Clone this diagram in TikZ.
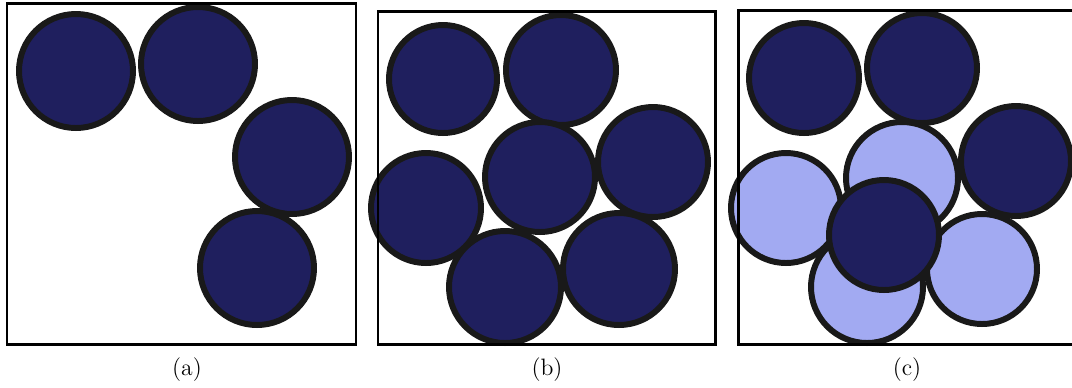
\documentclass[tikz,border=0pt]{standalone}
\definecolor{discdark}{HTML}{1F1F5E}
\definecolor{disclight}{HTML}{A2AAF2}
\begin{document}
\begin{tikzpicture}[x=0.02cm,y=-0.02cm,
  frame/.style={draw=black,line width=1.7pt},
  disc/.style={draw=black!90,line width=3.4pt,fill=discdark},
  ghost/.style={draw=black!90,line width=3.4pt,fill=disclight},
  caption/.style={font=\fontsize{13.5}{16}\selectfont,inner sep=0pt}]
\useasboundingbox[fill=white] (0,0) rectangle (1072,387);

% panel (a)
\filldraw[disc] (76,71) circle (57);
\filldraw[disc] (198,64) circle (57);
\filldraw[disc] (292,157) circle (57);
\filldraw[disc] (257,268) circle (57);
\draw[frame] (7,3) rectangle (356,344);
\node[caption] (la) at (187,370) {(a)};

% panel (b)
\filldraw[disc] (443,79) circle (54);
\filldraw[disc] (561,70) circle (55);
\filldraw[disc] (540,177) circle (55);
\filldraw[disc] (653,162) circle (55);
\filldraw[disc] (426,208) circle (55);
\filldraw[disc] (505,287) circle (56);
\filldraw[disc] (619,269) circle (56);
\draw[frame] (378,11) rectangle (715,344);
\node[caption] (lb) at (547,370) {(b)};

% panel (c): light discs underneath, dark discs on top
\filldraw[ghost] (902,178) circle (56);
\filldraw[ghost] (786,208) circle (55);
\filldraw[ghost] (867,287) circle (56);
\filldraw[ghost] (982,269) circle (55);
\filldraw[disc] (804,78) circle (55);
\filldraw[disc] (922,68) circle (55);
\filldraw[disc] (1016,161) circle (55);
\filldraw[disc] (884,235) circle (55);
\draw[frame] (738,10) rectangle (1076,344);
\node[caption] (lc) at (907,370) {(c)};
\end{tikzpicture}
\end{document}
